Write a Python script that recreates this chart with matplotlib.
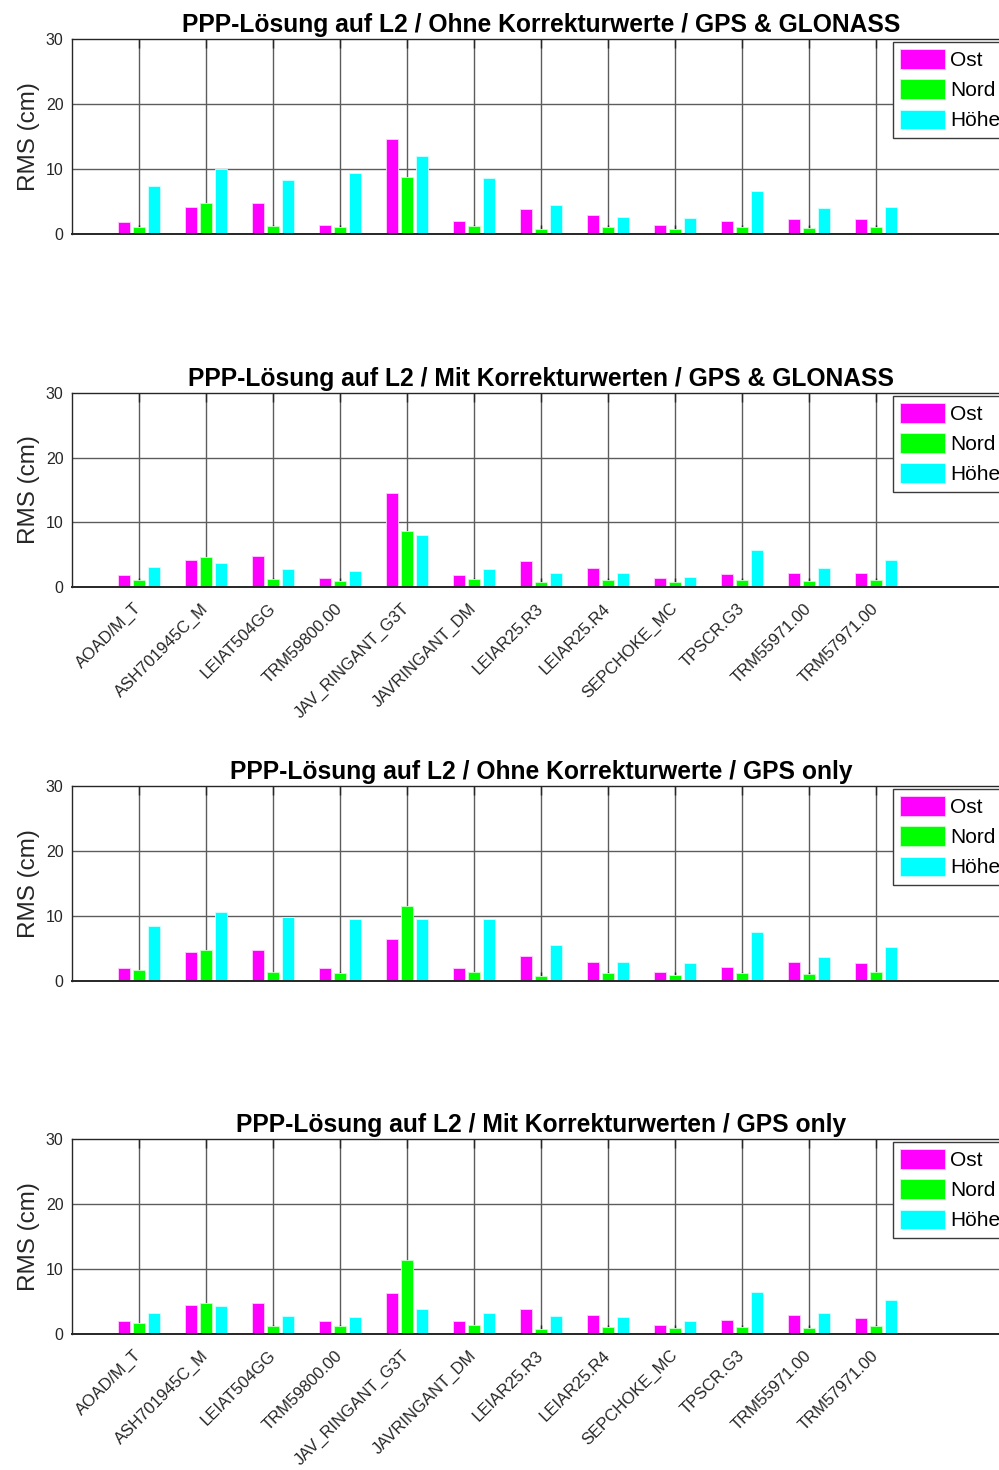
import matplotlib
matplotlib.use("Agg")
import matplotlib.pyplot as plt
import numpy as np
from matplotlib.transforms import ScaledTranslation

plt.rcParams['font.family'] = ['Liberation Sans', 'DejaVu Sans']

antennas = ["AOAD/M_T", "ASH701945C_M", "LEIAT504GG", "TRM59800.00",
            "JAV_RINGANT_G3T", "JAVRINGANT_DM", "LEIAR25.R3", "LEIAR25.R4",
            "SEPCHOKE_MC", "TPSCR.G3", "TRM55971.00", "TRM57971.00"]
series_names = ["Ost", "Nord", "Höhe"]
series_colors = ["#ff00ff", "#00ff00", "#00ffff"]

titles = [
    "PPP-Lösung auf L2 / Ohne Korrekturwerte / GPS & GLONASS",
    "PPP-Lösung auf L2 / Mit Korrekturwerten / GPS & GLONASS",
    "PPP-Lösung auf L2 / Ohne Korrekturwerte / GPS only",
    "PPP-Lösung auf L2 / Mit Korrekturwerten / GPS only",
]

# RMS values in cm: east, north, height per antenna
ost_ohne_gg = [1.9, 4.2, 4.8, 1.45, 14.65, 2.0, 3.85, 2.95, 1.4, 2.05, 2.3, 2.3]
nord_ohne_gg = [1.1, 4.7, 1.3, 1.1, 8.75, 1.3, 0.8, 1.1, 0.8, 1.1, 1.0, 1.15]
hoehe_ohne_gg = [7.4, 9.95, 8.35, 9.45, 11.95, 8.65, 4.45, 2.6, 2.45, 6.6, 4.0, 4.15]

ost_mit_gg = [1.85, 4.2, 4.8, 1.4, 14.55, 1.85, 3.95, 2.9, 1.35, 1.95, 2.2, 2.15]
nord_mit_gg = [1.1, 4.6, 1.2, 0.95, 8.65, 1.2, 0.75, 1.05, 0.8, 1.05, 0.95, 1.1]
hoehe_mit_gg = [3.15, 3.75, 2.85, 2.55, 8.05, 2.85, 2.15, 2.2, 1.6, 5.65, 2.9, 4.2]

ost_ohne_gps = [2.0, 4.4, 4.8, 2.05, 6.4, 2.0, 3.8, 3.0, 1.45, 2.2, 3.0, 2.7]
nord_ohne_gps = [1.65, 4.8, 1.35, 1.3, 11.5, 1.45, 0.8, 1.25, 0.9, 1.2, 1.05, 1.35]
hoehe_ohne_gps = [8.45, 10.55, 9.9, 9.55, 9.5, 9.5, 5.5, 3.0, 2.8, 7.55, 3.7, 5.3]

ost_mit_gps = [1.95, 4.45, 4.75, 1.95, 6.3, 1.95, 3.8, 2.95, 1.4, 2.15, 2.95, 2.5]
nord_mit_gps = [1.65, 4.75, 1.3, 1.25, 11.45, 1.4, 0.8, 1.1, 0.9, 1.1, 1.0, 1.3]
hoehe_mit_gps = [3.25, 4.3, 2.8, 2.65, 3.85, 3.25, 2.8, 2.6, 2.05, 6.5, 3.2, 5.3]

panels = [
    (ost_ohne_gg, nord_ohne_gg, hoehe_ohne_gg),
    (ost_mit_gg, nord_mit_gg, hoehe_mit_gg),
    (ost_ohne_gps, nord_ohne_gps, hoehe_ohne_gps),
    (ost_mit_gps, nord_mit_gps, hoehe_mit_gps),
]
show_labels = [False, True, False, True]

W, H = 999, 1470
fig = plt.figure(figsize=(W / 100, H / 100), dpi=100)

# axes boxes in pixels (top, bottom); right edge runs past the figure
ax_left_px, ax_right_px = 72, 1010
boxes = [(39, 234), (393, 587), (786, 981), (1139, 1334)]

x = np.arange(1, len(antennas) + 1)
offset = 0.224
width = 0.19
edge_colors = ['#ffd0ff', '#c8ffc8', '#d0ffff']

for (top, bot), data, title, lab in zip(boxes, panels, titles, show_labels):
    ax = fig.add_axes([ax_left_px / W, 1 - bot / H,
                       (ax_right_px - ax_left_px) / W, (bot - top) / H])
    for k, (vals, name, col) in enumerate(zip(data, series_names, series_colors)):
        ax.bar(x + (k - 1) * offset, vals, width=width, color=col,
               edgecolor=edge_colors[k], linewidth=0.6, label=name, zorder=2)
    ax.set_xlim(0, 14)
    ax.set_ylim(0, 30)
    ax.set_yticks([0, 10, 20, 30])
    ax.set_xticks(x)
    # grid behind the bars, ticks in front
    for xv in x:
        ax.axvline(xv, color='#5c5c5c', lw=1.0, zorder=0.5)
    for yv in (10, 20):
        ax.axhline(yv, color='#5c5c5c', lw=1.0, zorder=0.5)
    ax.tick_params(axis='both', direction='in', length=6.5, width=1.0,
                   colors='#262626', labelsize=11.5, top=True, right=False, pad=5)
    ax.tick_params(axis='y', length=0, pad=6)
    for side in ('left', 'top', 'bottom'):
        ax.spines[side].set_color('#262626')
        ax.spines[side].set_linewidth(1.0)
    ax.spines['bottom'].set_linewidth(1.4)
    ax.spines['right'].set_visible(False)
    ax.set_ylabel('RMS (cm)', fontsize=17.5, color='#262626', labelpad=4)
    ax.set_title(title, fontsize=17.7, fontweight='bold', pad=5)
    if lab:
        ax.set_xticklabels(antennas, rotation=45, ha='right', va='center',
                           rotation_mode='anchor', fontsize=12, color='#262626')
        shift = ScaledTranslation(0 / 100, -12 / 100, fig.dpi_scale_trans)
        for t in ax.get_xticklabels():
            t.set_transform(t.get_transform() + shift)
    else:
        ax.set_xticklabels([])
    for t in ax.get_yticklabels():
        t.set_color('#262626')
    leg = ax.legend(loc='upper left', bbox_to_anchor=(0.875, 0.985),
                    fontsize=15, frameon=True, fancybox=False, framealpha=1,
                    edgecolor='#3a3a3a', handlelength=2.15, handleheight=1.05,
                    labelspacing=0.45, handletextpad=0.25, borderpad=0.35,
                    borderaxespad=0.0)
    leg.get_frame().set_linewidth(1.0)
    leg.set_zorder(5)

fig.savefig('out.png', dpi=100)
